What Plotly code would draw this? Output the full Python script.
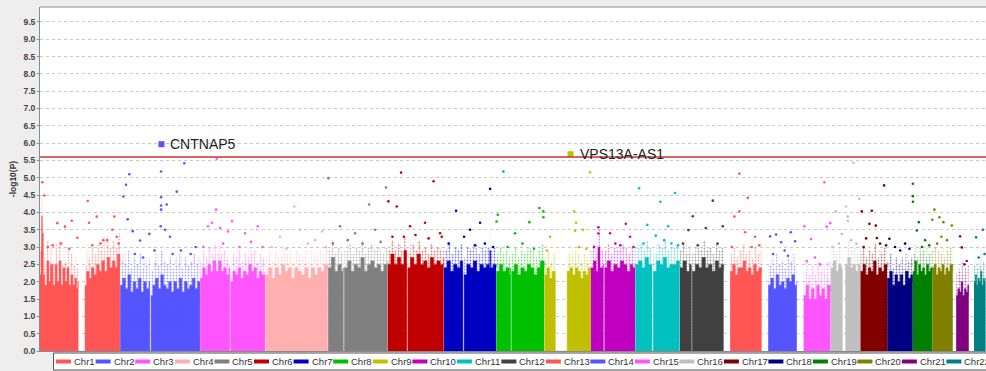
import plotly.graph_objects as go

# ---------------- data ----------------
CHROMS = ["Chr1", "Chr2", "Chr3", "Chr4", "Chr5", "Chr6", "Chr7", "Chr8", "Chr9", "Chr10", "Chr11",
          "Chr12", "Chr13", "Chr14", "Chr15", "Chr16", "Chr17", "Chr18", "Chr19", "Chr20", "Chr21", "Chr22"]
CHR_LEN_MB = [249.25, 243.2, 198.0, 191.15, 180.9, 171.1, 159.1, 146.4, 141.2, 135.5, 135.0,
              133.9, 115.2, 107.3, 102.5, 90.35, 81.2, 78.1, 59.1, 63.0, 48.1, 51.3]
CHR_COLORS = ["#ff5555", "#5555ff", "#ff55ff", "#ffafaf", "#808080", "#c00000", "#0000c0", "#00c000",
              "#c0c000", "#c000c0", "#00c0c0", "#404040", "#ff5555", "#5555ff", "#ff55ff", "#c0c0c0",
              "#800000", "#000080", "#008000", "#808000", "#800080", "#008080"]

# upper edge of the solid bulk of SNPs (position in Mb, -log10 P); 0 marks empty regions
ENV_POS = [
    [1, 5, 9, 11, 13, 16, 20, 27, 33, 38, 45, 52, 58, 64, 70, 76, 82, 88, 94, 100, 106, 112, 117, 121.5, 122, 142.5, 143, 148, 155, 162, 170, 178, 186, 194, 202, 210, 218, 226, 234, 241, 249],
    [0.5, 8, 16, 24, 32, 40, 48, 56, 64, 72, 80, 88, 90, 90.5, 94, 94.5, 100, 108, 116, 124, 132, 140, 148, 156, 164, 172, 180, 188, 196, 204, 212, 220, 228, 236, 243],
    [0.5, 8, 16, 24, 32, 40, 48, 56, 64, 72, 80, 88, 90, 90.5, 93, 93.5, 100, 108, 116, 124, 132, 140, 148, 156, 164, 172, 180, 188, 197.5],
    [0.5, 10, 20, 30, 40, 50, 60, 70, 80, 90, 100, 110, 120, 130, 140, 150, 160, 170, 180, 190.5],
    [0.5, 10, 20, 30, 40, 46, 46.5, 49.5, 50, 60, 70, 80, 90, 100, 110, 120, 130, 140, 150, 160, 170, 180.5],
    [0.5, 10, 20, 30, 40, 50, 58, 58.5, 61.5, 62, 70, 80, 90, 100, 110, 120, 130, 140, 150, 160, 170.5],
    [0.5, 10, 20, 30, 40, 50, 57.5, 58, 61.5, 62, 70, 80, 90, 100, 110, 120, 130, 138, 140, 142, 150, 159],
    [0.5, 10, 20, 30, 40, 44, 44.5, 47, 47.5, 55, 65, 75, 85, 95, 105, 115, 125, 135, 146],
    [0.5, 8, 16, 24, 33, 33.5, 69, 69.5, 78, 86, 94, 102, 110, 118, 126, 134, 141],
    [0.5, 8, 16, 22, 28, 38, 38.5, 42, 42.5, 50, 60, 70, 80, 90, 100, 110, 120, 128, 135],
    [0.5, 10, 20, 30, 40, 50, 50.5, 54.5, 55, 65, 75, 85, 95, 105, 115, 125, 134.5],
    [0.5, 10, 20, 30, 35, 35.5, 38, 38.5, 48, 58, 68, 78, 88, 98, 108, 118, 126, 133.5],
    [19.5, 27, 35, 43, 51, 59, 67, 75, 83, 91, 99, 107, 115],
    [20, 28, 36, 44, 52, 60, 68, 76, 84, 92, 100, 107],
    [20.5, 28, 36, 44, 52, 60, 68, 76, 84, 92, 102],
    [0.5, 8, 16, 24, 32, 35, 35.5, 45, 45.5, 52, 60, 68, 76, 84, 90],
    [0.5, 8, 16, 24, 32, 40, 48, 56, 64, 72, 81],
    [0.5, 8, 16, 24, 32, 40, 48, 56, 64, 72, 78],
    [0.3, 6, 12, 18, 24, 30, 36, 42, 48, 54, 59],
    [0.3, 6, 12, 18, 24, 30, 36, 42, 48, 54, 62.5],
    [10, 15, 20, 25, 30, 35, 40, 45, 48],
    [16, 20, 24, 28, 32, 36, 40, 44, 48, 51.2],
]
ENV_LOGP = [
    [1.8, 2.2, 2.9, 3.9, 3.4, 2.2, 1.9, 2.6, 2.0, 2.5, 1.9, 2.5, 2.0, 2.6, 1.9, 2.4, 2.0, 2.4, 1.9, 2.2, 1.9, 2.1, 1.8, 2.0, 0, 0, 1.9, 2.3, 2.1, 2.4, 2.2, 2.5, 2.3, 2.6, 2.3, 2.7, 2.4, 2.6, 2.4, 2.8, 2.5],
    [1.9, 2.1, 1.8, 2.2, 1.7, 2.0, 1.8, 2.1, 1.7, 2.0, 1.8, 2.0, 1.7, 0, 0, 1.6, 1.9, 2.1, 1.8, 2.2, 1.9, 1.8, 2.0, 1.7, 2.0, 1.8, 2.1, 1.7, 2.0, 1.8, 1.9, 2.1, 1.8, 2.0, 1.9],
    [2.1, 2.4, 2.2, 2.5, 2.3, 2.6, 2.3, 2.6, 2.3, 2.4, 2.2, 2.4, 2.1, 0, 0, 2.0, 2.3, 2.2, 2.4, 2.1, 2.3, 2.2, 2.5, 2.3, 2.4, 2.1, 2.3, 2.2, 2.3],
    [2.2, 2.4, 2.1, 2.4, 2.2, 2.5, 2.3, 2.4, 2.1, 2.4, 2.3, 2.2, 2.4, 2.1, 2.4, 2.2, 2.4, 2.3, 2.5, 2.3],
    [2.4, 2.7, 2.3, 2.5, 2.3, 2.4, 0, 0, 2.4, 2.6, 2.3, 2.5, 2.4, 2.7, 2.3, 2.5, 2.6, 2.4, 2.5, 2.3, 2.5, 2.6],
    [2.5, 2.8, 2.5, 2.7, 2.5, 2.9, 2.5, 0, 0, 2.4, 2.7, 2.5, 2.8, 2.5, 2.6, 2.4, 2.7, 2.5, 2.6, 2.5, 2.7],
    [2.4, 2.6, 2.3, 2.5, 2.4, 2.6, 2.3, 0, 0, 2.2, 2.5, 2.4, 2.6, 2.3, 2.5, 2.4, 2.5, 2.4, 2.9, 2.4, 2.5, 2.4],
    [2.3, 2.5, 2.3, 2.4, 2.2, 2.4, 0, 0, 2.3, 2.5, 2.2, 2.4, 2.3, 2.5, 2.4, 2.2, 2.4, 2.6, 2.4],
    [2.2, 2.4, 2.1, 2.3, 2.2, 0, 0, 2.3, 2.4, 2.2, 2.4, 2.3, 2.1, 2.3, 2.2, 2.4, 2.3],
    [2.4, 2.6, 2.3, 3.0, 2.4, 2.5, 0, 0, 2.4, 2.6, 2.3, 2.5, 2.4, 2.6, 2.5, 2.3, 2.5, 2.4, 2.5],
    [2.5, 2.6, 2.4, 2.7, 2.5, 2.4, 0, 0, 2.3, 2.6, 2.5, 2.7, 2.4, 2.5, 2.5, 2.6, 2.4],
    [2.4, 2.6, 2.3, 2.5, 2.4, 0, 0, 2.3, 2.5, 2.4, 2.7, 2.4, 2.5, 2.3, 2.6, 2.4, 2.5, 2.3],
    [2.3, 2.5, 2.2, 2.4, 2.4, 2.6, 2.3, 2.4, 2.2, 2.5, 2.3, 2.4, 2.2],
    [1.9, 2.1, 1.8, 2.2, 1.9, 2.0, 1.8, 2.1, 2.0, 2.2, 1.9, 2.0],
    [1.6, 1.9, 1.5, 1.8, 1.5, 1.9, 1.6, 1.8, 1.5, 1.9, 1.7],
    [2.4, 2.6, 2.3, 2.5, 2.4, 2.3, 0, 0, 2.5, 2.7, 2.4, 2.5, 2.3, 2.5, 2.4],
    [2.3, 2.5, 2.2, 2.4, 2.3, 2.6, 2.2, 2.4, 2.3, 2.5, 2.4],
    [2.1, 2.3, 1.9, 2.2, 2.0, 2.2, 1.9, 2.3, 2.1, 2.2, 2.0],
    [2.3, 2.6, 2.2, 2.5, 2.3, 2.4, 2.2, 2.5, 2.3, 2.4, 2.2],
    [2.4, 2.5, 2.2, 2.4, 2.3, 2.5, 2.2, 2.4, 2.3, 2.5, 2.3],
    [1.6, 1.8, 1.7, 2.0, 1.6, 1.8, 1.7, 1.9, 1.6],
    [2.0, 2.2, 1.9, 2.1, 2.0, 2.3, 1.9, 2.1, 2.0, 2.1],
]
# extra height of the thinning, speckled fringe above the solid bulk (-log10 P units)
FRINGE_ADD = [0.6, 0.7, 0.5, 0.5, 0.5, 0.4, 0.5, 0.5, 0.5, 0.5, 0.5,
              0.5, 0.5, 0.6, 0.7, 0.5, 0.5, 0.5, 0.5, 0.5, 0.6, 0.5]

# individual SNPs standing above the bulk (position in Mb, -log10 P)
PEAK_POS = [
    [13.1, 19.2, 58.7, 82.1, 102.5, 119.5, 151.1, 155, 178.4, 198.5, 225.9, 231.9, 239.3, 30, 45, 70, 95, 165, 190, 210, 245],
    [10.1, 18.3, 28.3, 23.5, 38.7, 60.9, 89.1, 124.7, 124.8, 124.9, 125.0, 142, 123.8, 136.9, 172.4, 195.5, 152.1, 45, 70, 105, 160, 185, 215, 230],
    [50.9, 48.7, 24.4, 36.6, 60.9, 85.2, 97.4, 136.9, 175.4, 10, 70, 120, 155, 190],
    [88.8, 45.3, 106.1, 151.7, 173, 20, 65, 130, 185],
    [1.0, 124.8, 176.4, 36.6, 82.2, 143, 15, 60, 105, 160],
    [2.6, 28.1, 41.2, 140, 68.5, 114.1, 159.7, 15, 50, 85, 125, 165],
    [140.7, 37.3, 79.9, 110.3, 61.6, 15, 95, 125, 150],
    [22.0, 5.0, 1.3, 101.1, 131.5, 143.6, 143.7, 57.6, 35, 80, 115],
    [90.6, 96.7, 93.6, 139.2, 17.6, 118, 8, 105, 128],
    [23.3, 23.4, 106.6, 58.8, 119.6, 10, 75, 90, 130],
    [11.5, 121, 76.2, 36.7, 62.3, 99.7, 25, 88, 110, 130],
    [100.6, 39.8, 26.4, 79.3, 131, 10, 55, 115],
    [47.6, 73.1, 47.5, 32.3, 64.9, 95.3, 25, 85, 108],
    [25.7, 43.9, 59.2, 88.7, 101.7, 35, 70, 80],
    [83.5, 22.7, 43, 90.8, 101.5, 30, 55, 70],
    [69.2, 86.5, 15.7, 47, 52.1, 52.2, 33.9, 5, 25, 62, 78],
    [72.2, 4.3, 34.8, 27.5, 46.9, 17.4, 50, 60, 10, 78],
    [7.1, 24.4, 54.8, 40, 68],
    [0.3, 0.4, 0.5, 12.3, 18.4, 37.5, 28, 50],
    [6.7, 0.5, 21.9, 34.1, 59.6, 15, 45, 28],
    [21.8, 27, 35, 42],
    [42.8, 22.4, 30, 48],
]
PEAK_LOGP = [
    [4.87, 4.49, 3.69, 3.59, 3.76, 3.27, 4.33, 3.7, 3.88, 3.2, 3.5, 3.88, 3.3, 3.0, 3.05, 3.1, 2.95, 3.05, 3.1, 3.2, 3.1],
    [4.46, 4.8, 5.1, 3.8, 3.46, 3.19, 3.38, 5.18, 4.44, 4.2, 4.08, 4.23, 3.6, 3.5, 4.6, 5.42, 3.3, 2.8, 2.7, 2.9, 2.8, 2.9, 2.8, 3.0],
    [5.55, 4.08, 3.6, 3.7, 3.55, 3.45, 3.75, 3.4, 3.6, 3.0, 3.1, 3.0, 3.15, 3.0],
    [4.17, 3.3, 3.5, 3.2, 3.45, 3.0, 2.95, 3.1, 3.0],
    [4.99, 4.23, 4.72, 3.6, 3.4, 3.5, 3.1, 3.2, 3.1, 3.15],
    [4.32, 4.17, 5.15, 4.9, 3.6, 3.7, 3.4, 3.3, 3.3, 3.35, 3.25, 3.3],
    [4.68, 4.05, 3.5, 3.7, 3.3, 3.1, 3.05, 3.1, 3.0],
    [5.18, 3.93, 3.74, 3.72, 4.13, 4.03, 3.86, 3.4, 3.0, 3.1, 2.95],
    [4.03, 3.7, 3.47, 5.16, 3.3, 3.5, 2.9, 3.0, 2.95],
    [3.57, 3.39, 3.67, 3.4, 3.3, 3.0, 3.1, 3.05, 3.0],
    [4.7, 4.56, 4.31, 3.64, 3.33, 3.6, 3.1, 3.2, 3.1, 3.05],
    [4.34, 3.89, 3.49, 3.55, 3.6, 3.1, 3.05, 3.1],
    [5.12, 4.42, 4.03, 3.88, 3.43, 3.3, 3.0, 3.0, 3.05],
    [3.31, 3.36, 3.14, 3.43, 3.17, 2.8, 2.9, 2.75],
    [4.87, 3.6, 3.23, 3.59, 3.69, 2.6, 2.7, 2.5],
    [5.43, 4.39, 4.03, 4.17, 3.88, 3.76, 3.38, 3.0, 3.1, 3.2, 3.1],
    [4.78, 4.03, 4.05, 3.67, 3.62, 3.25, 3.26, 3.1, 3.0, 3.05],
    [3.24, 3.0, 3.1, 2.9, 2.95],
    [4.83, 4.47, 4.31, 3.48, 3.72, 3.2, 3.0, 3.05],
    [4.08, 3.79, 3.86, 3.72, 3.62, 3.1, 3.2, 3.3],
    [3.31, 2.99, 2.5, 2.6],
    [3.5, 3.28, 2.7, 2.8],
]

HIT_GENES = ["CNTNAP5", "VPS13A-AS1"]
HIT_CHR = ["Chr2", "Chr9"]
HIT_POS = [126.0, 79.9]
HIT_LOGP = [5.97, 5.68]

THRESHOLD = 5.6
Y_TICKS = [0.0, 0.5, 1.0, 1.5, 2.0, 2.5, 3.0, 3.5, 4.0, 4.5, 5.0, 5.5, 6.0, 6.5, 7.0, 7.5, 8.0, 8.5, 9.0, 9.5]
Y_TITLE = "-log10(P)"

# ---------------- figure ----------------
W, H = 986, 371
ML, MR, MT, MB = 40, 0, 7, 20
PW, PH = W - ML - MR, H - MT - MB
FONT = "Liberation Sans, Arial, sans-serif"

offsets = []
acc = 0.0
for L in CHR_LEN_MB:
    offsets.append(acc)
    acc += L

fig = go.Figure()

# speckled fringe (sparse SNPs) behind the solid bulk
for i, name in enumerate(CHROMS):
    col = CHR_COLORS[i]
    fy = [v + FRINGE_ADD[i] if v > 0 else 0 for v in ENV_LOGP[i]]
    fig.add_trace(go.Scatter(
        x=[offsets[i] + p for p in ENV_POS[i]], y=fy,
        mode="lines", line=dict(width=0, color=col, shape="hv"), fill="tozeroy",
        fillcolor="rgba(0,0,0,0)",
        fillpattern=dict(shape=".", fgcolor=col, bgcolor="rgba(255,255,255,0)", size=3, solidity=0.3),
        hoverinfo="skip", showlegend=False))

# solid bulk of SNPs
for i, name in enumerate(CHROMS):
    col = CHR_COLORS[i]
    fig.add_trace(go.Scatter(
        x=[offsets[i] + p for p in ENV_POS[i]], y=ENV_LOGP[i],
        mode="lines", line=dict(width=0.5, color=col, shape="hv"), fill="tozeroy", fillcolor=col,
        hoverinfo="skip", showlegend=False))

for i, name in enumerate(CHROMS):
    col = CHR_COLORS[i]
    fig.add_trace(go.Scatter(
        x=[offsets[i] + p for p in PEAK_POS[i]], y=PEAK_LOGP[i],
        mode="markers", marker=dict(size=2.6, color=col, line=dict(width=0)),
        name=name, showlegend=False))

hit_x = [offsets[CHROMS.index(c)] + p for c, p in zip(HIT_CHR, HIT_POS)]
hit_col = [CHR_COLORS[CHROMS.index(c)] for c in HIT_CHR]
fig.add_trace(go.Scatter(x=hit_x, y=HIT_LOGP, mode="markers",
                         marker=dict(symbol="square", size=6, color=hit_col, line=dict(width=0)),
                         showlegend=False, text=HIT_GENES))

for gx, gy, g in zip(hit_x, HIT_LOGP, HIT_GENES):
    fig.add_annotation(x=gx, y=gy, xref="x", yref="y", text=g, showarrow=False,
                       xanchor="left", yanchor="middle", xshift=7,
                       font=dict(family=FONT, size=14, color="#222222"))

shapes = []
shapes.append(dict(type="line", xref="paper", x0=0, x1=1, yref="y", y0=THRESHOLD, y1=THRESHOLD,
                   line=dict(color="#d03030", width=1.3), layer="above"))
shapes.append(dict(type="line", xref="paper", x0=0, x1=1, yref="paper", y0=1, y1=1,
                   line=dict(color="#8a8a8a", width=1)))


def px2x(px):
    return (px - ML) / PW


def py2y(py):
    return (MT + PH - py) / PH


shapes.append(dict(type="rect", xref="paper", yref="paper", x0=px2x(53.5), x1=px2x(1000),
                   y0=py2y(370), y1=py2y(353), fillcolor="white", line=dict(color="#555555", width=1)))
sx = 56.0
for i, name in enumerate(CHROMS):
    yy = py2y(361.5)
    shapes.append(dict(type="line", xref="paper", yref="paper", x0=px2x(sx), x1=px2x(sx + 15),
                       y0=yy, y1=yy, line=dict(color=CHR_COLORS[i], width=4)))
    fig.add_annotation(x=px2x(sx + 17), y=yy, xref="paper", yref="paper", text=name, showarrow=False,
                       xanchor="left", yanchor="middle", borderpad=0,
                       font=dict(family=FONT, size=9.5, color="#333333"))
    sx += 39.6 if len(name) == 4 else 44.5

fig.update_layout(
    width=W, height=H,
    margin=dict(l=ML, r=MR, t=MT, b=MB, pad=0),
    paper_bgcolor="#eeeeee", plot_bgcolor="white",
    shapes=shapes,
    xaxis=dict(range=[6, 2882], showticklabels=False, ticks="", showgrid=False, zeroline=False,
               showline=True, linecolor="#8a8a8a", linewidth=1, fixedrange=True),
    yaxis=dict(range=[0, 9.93], tickvals=Y_TICKS, ticktext=[f"{v:.1f}" for v in Y_TICKS],
               showgrid=True, gridcolor="#c8c8c8", gridwidth=1, griddash="dot",
               zeroline=False, showline=True, linecolor="#8a8a8a", linewidth=1,
               ticks="outside", ticklen=2, tickcolor="#8a8a8a",
               tickfont=dict(family=FONT, size=8.5, color="#444444", weight="bold"),
               title=dict(text=Y_TITLE, standoff=5,
                          font=dict(family=FONT, size=8.5, color="#333333", weight="bold"))),
    showlegend=False,
)

fig.write_html("out.html", config={"displayModeBar": False})
